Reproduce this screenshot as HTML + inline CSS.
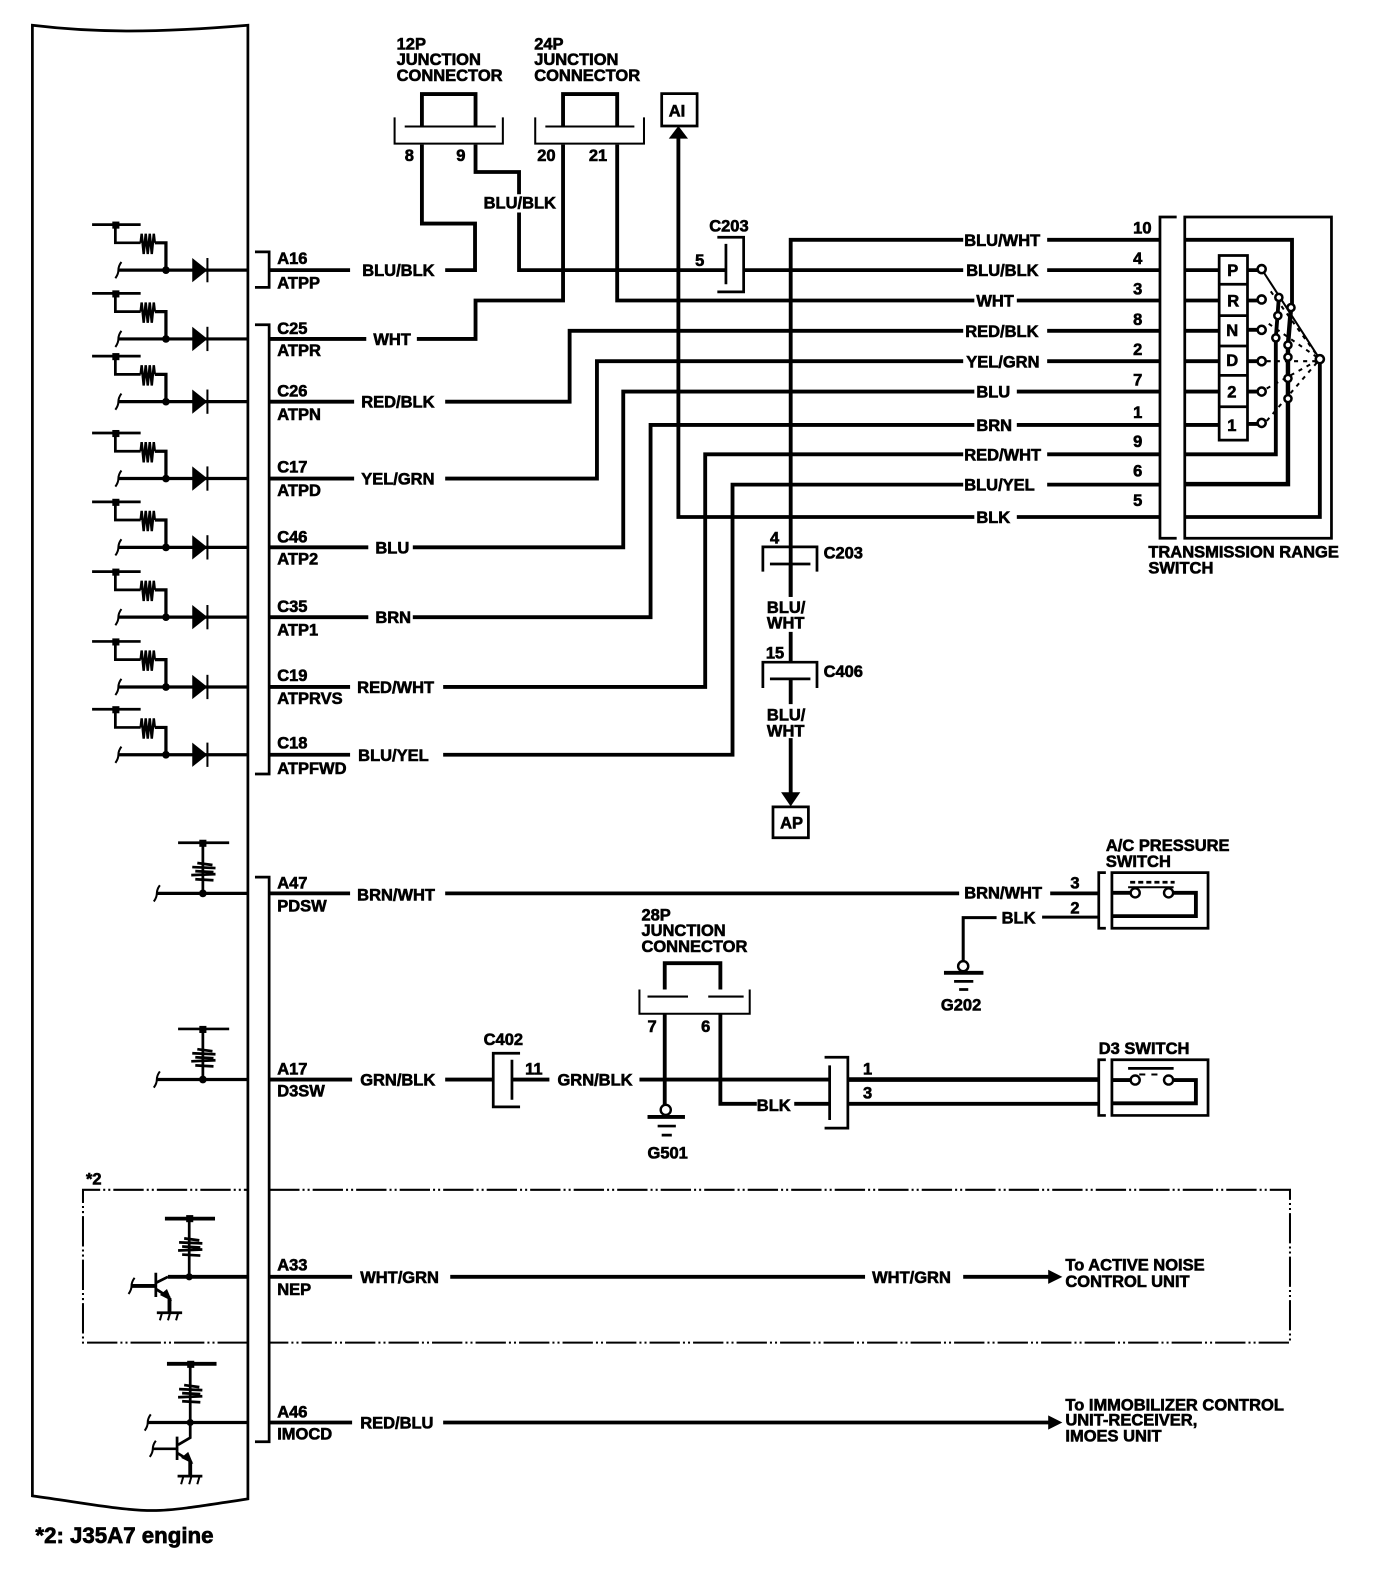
<!DOCTYPE html>
<html><head><meta charset="utf-8"><style>
html,body{margin:0;padding:0;background:#fff}
svg{display:block}
text{font-family:"Liberation Sans",sans-serif;font-weight:bold;font-size:16.3px;fill:#000;stroke:#000;stroke-width:.6}
.w{fill:none;stroke:#000;stroke-width:3.8;stroke-linejoin:miter}
.m{fill:none;stroke:#000;stroke-width:2.7}
.t{fill:none;stroke:#000;stroke-width:2}
</style></head><body>
<svg xmlns="http://www.w3.org/2000/svg" width="1376" height="1586" viewBox="0 0 1360 1567.6">
<defs>
<g id="rz"><path fill="none" stroke="#000" stroke-width="2.700" d="M-6,-9L9,-7M-11,-5L12,-4M-8,-1L10,0M-12,3L12,2M-8,7L10,8"/></g>
<g id="u">
<path class="m" d="M91,-45H139"/><rect x="111" y="-48" width="7" height="7"/>
<path class="m" d="M114,-45V-27H139"/>
<path fill="none" stroke="#000" stroke-width="2.400" d="M139,-27l1,-9l2,20l2,-20l2,20l2,-20l2,20l2,-20l1,9"/>
<path class="w" d="M153,-27H164V0" style="stroke-width:3.200"/>
<circle cx="164" cy="0" r="3.800"/>
<path class="t" d="M114,8Q117,4 117,0Q117,-4 120,-8"/>
<path class="m" style="stroke-width:3.200" d="M117,0H245"/>
<path d="M190,-12L205,0L190,12Z"/><path class="t" d="M205,-12V12"/>
</g>
<g id="r">
<path class="m" d="M176,-50H226.500"/><rect x="197" y="-53" width="7" height="7"/>
<path class="m" d="M200.500,-50V0"/>
<use href="#rz" x="201" y="-21"/>
<circle cx="200.500" cy="0" r="3.800"/>
<path class="t" d="M152,8Q155,4 155,0Q155,-4 158,-8"/>
<path class="m" style="stroke-width:3.200" d="M155,0H245"/>
</g>
<g id="sw">
<path class="m" d="M1093,-20H1086V35H1093"/>
<path class="m" d="M1099,-20H1194V35H1099Z"/>
<path class="w" d="M1099,0H1117M1160,0H1182V23H1099"/>
<circle cx="1122" cy="0" r="4.500" fill="#fff" stroke="#000" stroke-width="2.400"/>
<circle cx="1155" cy="0" r="4.500" fill="#fff" stroke="#000" stroke-width="2.400"/>
</g>
</defs>

<!-- ECU panel -->
<path class="m" fill="#fff" d="M32,25C90,32 150,33 245,25V1481.500C190,1490 170,1493 151,1493C120,1493 80,1485 32,1478.500Z"/>
<path class="m" d="M252,249H266V284H252"/>
<path class="m" d="M252,321H266V765H252"/>
<path class="m" d="M252,867H266V1425H252"/>

<use href="#u" y="267"/><use href="#u" y="335"/><use href="#u" y="397"/><use href="#u" y="473"/>
<use href="#u" y="541"/><use href="#u" y="610"/><use href="#u" y="679"/><use href="#u" y="746"/>
<use href="#r" y="883"/><use href="#r" y="1067"/>

<!-- Pin labels left -->
<text x="274" y="261">A16</text><text x="274" y="285">ATPP</text>
<text x="274" y="330">C25</text><text x="274" y="352">ATPR</text>
<text x="274" y="392">C26</text><text x="274" y="415">ATPN</text>
<text x="274" y="467">C17</text><text x="274" y="490">ATPD</text>
<text x="274" y="536">C46</text><text x="274" y="558">ATP2</text>
<text x="274" y="605">C35</text><text x="274" y="628">ATP1</text>
<text x="274" y="673">C19</text><text x="274" y="696">ATPRVS</text>
<text x="274" y="740">C18</text><text x="274" y="765">ATPFWD</text>
<text x="274" y="878">A47</text><text x="274" y="901">PDSW</text>
<text x="274" y="1062">A17</text><text x="274" y="1084">D3SW</text>
<text x="274" y="1256">A33</text><text x="274" y="1280">NEP</text>
<text x="274" y="1401">A46</text><text x="274" y="1423">IMOCD</text>

<!-- Wires: left row to junctions -->
<path class="w" d="M266,267H346M440,267H469.500V221H417V143"/>
<path class="w" d="M470,143V170H513V192M513,210V267H717M735,267H952M1035,267H1147"/>
<path class="w" d="M266,335H362M412,335H470V297H556.500V143"/>
<path class="w" d="M610,143V297H963M1005,297H1147"/>
<path class="w" d="M266,397H350M440,397H563V327H952M1035,327H1147"/>
<path class="w" d="M266,473H350M440,473H590V357H952M1035,357H1147"/>
<path class="w" d="M266,541H364M408,541H616V387H963M1005,387H1147"/>
<path class="w" d="M266,610H364M408,610H643V420H963M1005,420H1147"/>
<path class="w" d="M266,679H346M438,679H697V449H952M1035,449H1147"/>
<path class="w" d="M266,746H346M438,746H724V479H952M1035,479H1147"/>
<path class="w" d="M781.500,590V237H952M1035,237H1147"/>
<path class="w" d="M670.500,136V511H963M1005,511H1147"/>
<path d="M670.500,124.500L680,137H661Z"/>

<text x="358" y="273">BLU/BLK</text><text x="369" y="341">WHT</text>
<text x="357" y="403">RED/BLK</text><text x="357" y="479">YEL/GRN</text>
<text x="371" y="547">BLU</text><text x="371" y="616">BRN</text>
<text x="353" y="685">RED/WHT</text><text x="354" y="752">BLU/YEL</text>
<text x="478" y="206">BLU/BLK</text>

<!-- Junction connectors top -->
<text x="392" y="49">12P</text><text x="392" y="64">JUNCTION</text><text x="392" y="80">CONNECTOR</text>
<text x="528" y="49">24P</text><text x="528" y="64">JUNCTION</text><text x="528" y="80">CONNECTOR</text>
<path class="w" d="M417,125V93H470V125"/><path class="w" d="M556.500,125V93H610V125"/>
<path class="t" d="M390,116V142H497V116M400,125H490"/>
<path class="t" d="M529,116V142H636.500V116M539,125H627"/>
<text x="400" y="159">8</text><text x="451" y="159">9</text><text x="531" y="159">20</text><text x="582" y="159">21</text>
<path class="m" d="M654,92.500H689V124.500H654Z"/>
<text x="661" y="115">AI</text>

<!-- C203 upper -->
<text x="701" y="229">C203</text><text x="687" y="263">5</text>
<path class="m" d="M709,234.500H735V288.500H709M717.500,241V281"/>

<!-- C203 / C406 lower -->
<text x="761" y="537">4</text><text x="814" y="552">C203</text>
<path class="m" d="M754,565V540.500H807.500V565M761,557.500H801"/>
<text x="758" y="606">BLU/</text><text x="758" y="621">WHT</text>
<path class="w" d="M781.500,557.500V590M781.500,624.500V654M781.500,671V696M781.500,729.500V784"/>
<text x="757" y="651">15</text><text x="814" y="669">C406</text>
<path class="m" d="M754,680V654.500H807.500V680M761,671H801"/>
<text x="758" y="712">BLU/</text><text x="758" y="728">WHT</text>
<path d="M781.500,797L772,783H791Z"/>
<path class="m" d="M764,797.500H799V828H764Z"/>
<text x="771" y="819">AP</text>

<!-- Wire labels right -->
<text x="953" y="243">BLU/WHT</text><text x="955" y="273">BLU/BLK</text>
<text x="965" y="303">WHT</text><text x="954" y="333">RED/BLK</text>
<text x="955" y="363">YEL/GRN</text><text x="965" y="393">BLU</text>
<text x="965" y="426">BRN</text><text x="953" y="455">RED/WHT</text>
<text x="953" y="485">BLU/YEL</text><text x="965" y="517">BLK</text>
<text x="1120" y="231">10</text><text x="1120" y="261">4</text><text x="1120" y="291">3</text>
<text x="1120" y="321">8</text><text x="1120" y="351">2</text><text x="1120" y="381">7</text>
<text x="1120" y="413">1</text><text x="1120" y="442">9</text><text x="1120" y="471">6</text>
<text x="1120" y="500">5</text>

<!-- Transmission range switch -->
<path class="m" d="M1163,214.500H1146.500V532H1163"/>
<path class="m" d="M1171,214.500H1316V532H1171Z"/>
<path class="w" d="M1171,237H1277V304"/>
<path class="w" d="M1171,267H1205M1171,297H1205M1171,327H1205M1171,357H1205M1171,387H1205M1171,420H1205"/>
<path class="w" d="M1233,267H1243M1233,297H1243M1233,326H1243M1233,357H1243M1233,387H1243M1233,419H1243"/>
<path class="m" fill="#fff" d="M1205,252.500H1233V435H1205ZM1205,281H1233M1205,312H1233M1205,342H1233M1205,371H1233M1205,402H1233"/>
<text x="1213" y="273">P</text><text x="1213" y="303">R</text><text x="1212" y="332">N</text>
<text x="1212" y="362">D</text><text x="1213" y="393">2</text><text x="1213" y="426">1</text>
<path class="t" d="M1247,266L1304.500,355"/>
<g class="t" stroke-dasharray="4 5">
<path d="M1256,288L1304.500,355"/><path d="M1254,320L1304.500,355"/>
<path d="M1252,357H1304.500"/><path d="M1252,384L1304.500,355"/><path d="M1252,416L1304.500,355"/>
</g>
<path class="w" d="M1264,294L1261,334V449H1171"/>
<path class="w" d="M1276,304L1273,341V478.500H1171" style="stroke-width:4.400"/>
<path class="w" d="M1304.500,355V511H1171"/>
<g fill="#fff" stroke="#000" stroke-width="2.500">
<circle cx="1247" cy="266" r="4"/><circle cx="1247" cy="296" r="4"/><circle cx="1247" cy="326" r="4"/>
<circle cx="1247" cy="357" r="4"/><circle cx="1247" cy="387" r="4"/><circle cx="1247" cy="418" r="4"/>
<circle cx="1264" cy="294" r="3.500"/><circle cx="1263" cy="312" r="3.500"/><circle cx="1261" cy="334" r="3.500"/>
<circle cx="1276" cy="304" r="3.500"/><circle cx="1273" cy="341" r="3.500"/><circle cx="1273" cy="353" r="3.500"/>
<circle cx="1273" cy="374" r="3.500"/><circle cx="1273" cy="394" r="3.500"/><circle cx="1304.500" cy="355" r="4"/>
</g>
<text x="1135" y="551">TRANSMISSION RANGE</text><text x="1135" y="567">SWITCH</text>

<!-- A/C pressure -->
<path class="w" d="M266,883H346M440,883H948M1038,883H1086"/>
<text x="353" y="890">BRN/WHT</text><text x="953" y="888">BRN/WHT</text>
<text x="1058" y="878">3</text><text x="1058" y="903">2</text>
<text x="1093" y="841">A/C PRESSURE</text><text x="1093" y="857">SWITCH</text>
<use href="#sw" y="882.500"/>
<path class="m" stroke-dasharray="5 3" d="M1117,872H1161"/><path class="t" d="M1115,877H1160"/>
<path class="m" style="stroke-width:3" d="M1030,906.500H1086M985,907H952V950"/>
<text x="990" y="913">BLK</text>
<circle cx="952" cy="955" r="5" fill="#fff" stroke="#000" stroke-width="2.400"/>
<path class="w" d="M933,961.500H972"/><path class="m" d="M943,970H962M948,978H957"/>
<text x="930" y="999">G202</text>

<!-- D3 line -->
<path class="w" d="M266,1067H348M440,1067H487M506,1067H543M632,1067H820"/>
<text x="356" y="1073">GRN/BLK</text><text x="551" y="1073">GRN/BLK</text>
<text x="478" y="1033">C402</text><text x="519" y="1062">11</text>
<path class="m" d="M514,1041H487.500V1094H514M506,1047.500V1087"/>
<text x="634" y="910">28P</text><text x="634" y="925">JUNCTION</text><text x="634" y="941">CONNECTOR</text>
<path class="w" d="M657,978V952H712V978"/>
<path class="t" d="M632,978V1002H741V978M640,985H680M700,985H735"/>
<text x="640" y="1020">7</text><text x="693" y="1020">6</text>
<path class="w" d="M657,1002V1092M712,1002V1091H748M785,1091H820"/>
<text x="748" y="1098">BLK</text>
<circle cx="658" cy="1097" r="5" fill="#fff" stroke="#000" stroke-width="2.400"/>
<path class="w" d="M640,1104H677"/><path class="m" d="M650,1113H668M654,1122H664"/>
<text x="640" y="1145">G501</text>
<path class="m" d="M815,1045H838V1115H815M820,1053V1107"/>
<text x="853" y="1062">1</text><text x="853" y="1086">3</text>
<path class="w" d="M838,1067H1086" style="stroke-width:4.600"/><path class="w" d="M838,1091H1086"/>
<text x="1086" y="1042">D3 SWITCH</text>
<use href="#sw" y="1067.500"/>
<path class="m" d="M1115,1056H1160"/><path class="t" stroke-dasharray="6 6" d="M1126,1062H1150"/>

<!-- Dashed region -->
<path class="t" stroke-dasharray="30 3 2 3 2 3" d="M266,1176H1275V1327H266M245,1327H82V1176H245"/>
<text x="85" y="1171">*2</text>

<!-- NEP transistor -->
<path class="w" d="M163,1204.500H212.500"/><rect x="184" y="1201" width="7" height="7"/>
<path class="m" d="M187,1204.500V1262"/>
<use href="#rz" x="188" y="1233"/>
<circle cx="187" cy="1262" r="3.500"/>
<path class="w" d="M166,1262H245"/>
<path class="m" d="M154,1258V1282M154,1268L166,1262M154,1274L168,1283"/>
<path class="w" d="M130,1271H154M167.500,1283V1297"/>
<path d="M170,1286L158,1280L165,1274Z"/>
<path class="m" d="M155,1297.500H180"/><path class="t" d="M160,1298l-2,7M168,1298l-2,7M176,1298l-2,7"/>
<path class="t" d="M127,1279Q130,1275 130,1271Q130,1267 133,1263"/>
<path class="w" d="M266,1262H348M445,1262H855M952,1262H1037"/>
<path d="M1036,1255L1050,1262L1036,1269Z"/>
<text x="356" y="1268">WHT/GRN</text><text x="862" y="1268">WHT/GRN</text>
<text x="1053" y="1256">To ACTIVE NOISE</text><text x="1053" y="1272">CONTROL UNIT</text>

<!-- IMOCD -->
<path class="w" d="M165,1348H214"/><rect x="185" y="1345" width="7" height="7"/>
<path class="m" d="M188,1348V1421L176,1428"/>
<use href="#rz" x="188" y="1378"/>
<circle cx="188" cy="1406" r="3.500"/>
<path class="m" style="stroke-width:3.200" d="M146,1406H245"/>
<path class="t" d="M143,1414Q146,1410 146,1406Q146,1402 149,1398"/>
<path class="m" d="M175,1420V1443M175,1436L188,1444M151,1432H175"/>
<path class="t" d="M148,1440Q151,1436 151,1432Q151,1428 154,1424"/>
<path class="w" d="M188,1444V1459"/><path d="M191,1447L179,1441L186,1435Z"/>
<path class="m" d="M175.500,1459H200"/><path class="t" d="M181,1460l-2,7M189,1460l-2,7M197,1460l-2,7"/>
<path class="w" d="M266,1406H348M438,1406H1037"/>
<path d="M1036,1399L1050,1406L1036,1413Z"/>
<text x="356" y="1412">RED/BLU</text>
<text x="1053" y="1394">To IMMOBILIZER CONTROL</text><text x="1053" y="1409">UNIT-RECEIVER,</text><text x="1053" y="1425">IMOES UNIT</text>

<text x="35" y="1525" style="font-size:22px;stroke-width:.7">*2: J35A7 engine</text>
</svg>
</body></html>
